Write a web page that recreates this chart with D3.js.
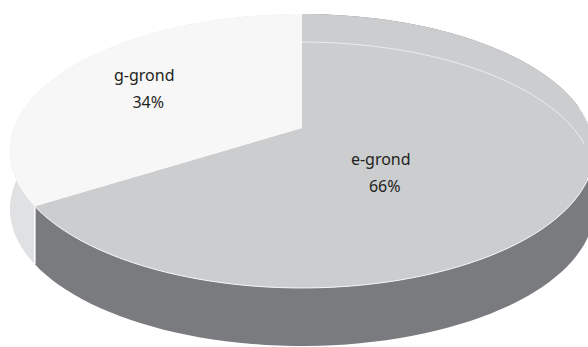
<!DOCTYPE html>
<html>
<head>
<meta charset="utf-8">
<script src="https://cdn.jsdelivr.net/npm/d3@7"></script>
<style>
  html, body { margin: 0; padding: 0; background: #ffffff; }
  svg { display: block; }
</style>
</head>
<body>
<svg id="chart" width="588" height="347"></svg>
<script>
// ---- data ----
const categories = ["e-grond", "g-grond"];
const values = [66, 34];
const valueLabels = ["66%", "34%"];

// ---- styles ----
const topColors = ["#cccdcf", "#f7f7f7"];
const sideColors = ["#7a7b7f", "#e0e1e3"];

// ---- layout (projection of a tilted disc) ----
const W = 588, H = 347;
const cx = 302, cy = 128;      // projected centre of the disc
const A = 287.9, B = 133.1;    // horizontal / vertical projection scale
const K = 0.168;               // perspective strength
const DEPTH = 58;              // thickness of the disc on screen

function proj(theta, r, dy) {
  const u = r * Math.sin(theta), w = -r * Math.cos(theta);
  const D = 1 - K * w;
  return [cx + A * u / D, cy + B * w / D + (dy || 0)];
}

const svg = d3.select("#chart");
const pie = d3.pie().sort(null).startAngle(0).endAngle(2 * Math.PI);
const arcs = pie(values);
const line = d3.line();
const samples = 160;

function arcPoints(a0, a1, r, dy) {
  const n = Math.max(2, Math.ceil(samples * (a1 - a0) / (2 * Math.PI)));
  return d3.range(n + 1).map(i => proj(a0 + (a1 - a0) * i / n, r, dy));
}

// sides (bands between top rim and shifted rim)
const sides = svg.append("g");
arcs.forEach((a, i) => {
  const top = arcPoints(a.startAngle, a.endAngle, 1, 0);
  const bot = arcPoints(a.startAngle, a.endAngle, 1, DEPTH).reverse();
  sides.append("path")
    .attr("d", line(top.concat(bot)) + "Z")
    .attr("fill", sideColors[i]);
});

// separator between the two visible sides
const sep = arcs[0].endAngle;
sides.append("path")
  .attr("d", line([proj(sep, 1, 0), proj(sep, 1, DEPTH)]))
  .attr("stroke", "#ffffff").attr("stroke-width", 1.5).attr("fill", "none");

// top faces
const tops = svg.append("g");
arcs.forEach((a, i) => {
  const pts = [proj(0, 0, 0)].concat(arcPoints(a.startAngle, a.endAngle, 1, 0));
  tops.append("path")
    .attr("d", line(pts) + "Z")
    .attr("fill", topColors[i]);
});

// thin white rim along the front edge of the large slice
tops.append("path")
  .attr("d", line(arcPoints(Math.PI * 0.45, arcs[0].endAngle, 1, 0)))
  .attr("stroke", "#f4f4f4").attr("stroke-width", 1).attr("fill", "none");

// faint inner highlight line inside the large slice
tops.append("path")
  .attr("d", line(arcPoints(0, Math.PI * 0.47, 1, 28)))
  .attr("stroke", "#eeeeee").attr("stroke-width", 1).attr("fill", "none")
  .attr("opacity", 0.9);

// labels
const labelLayout = [
  { r: 0.41, dTheta: 0.363 },
  { r: 0.65, dTheta: 0 }
];
const labels = svg.append("g")
  .attr("font-family", "'Noto Sans', 'Open Sans', sans-serif")
  .attr("font-size", 16)
  .attr("fill", "#231f20")
  .attr("text-anchor", "middle");
arcs.forEach((a, i) => {
  const mid = (a.startAngle + a.endAngle) / 2 + labelLayout[i].dTheta;
  const p = proj(mid, labelLayout[i].r, 0);
  labels.append("text").attr("x", p[0] - 2).attr("y", p[1] - 7).text(categories[i]);
  labels.append("text").attr("x", p[0] + 2).attr("y", p[1] + 20).text(valueLabels[i]);
});
</script>
</body>
</html>
